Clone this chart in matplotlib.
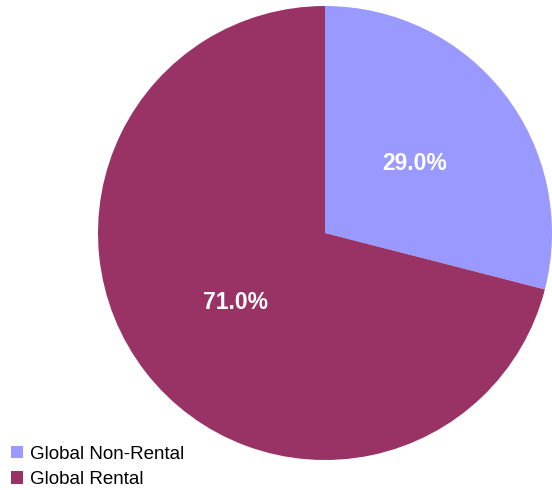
import matplotlib.pyplot as plt
from matplotlib.patches import Patch

plt.rcParams['font.family'] = ['Liberation Sans', 'DejaVu Sans']

# Data
labels = ['Global Non-Rental', 'Global Rental']
shares = [29.0, 71.0]
colors = ['#9999FF', '#993366']

fig = plt.figure(figsize=(5.52, 4.9), dpi=100)
ax = fig.add_axes([98 / 552, 30 / 490, 454 / 552, 454 / 490])

wedges, texts, autotexts = ax.pie(
    shares, colors=colors, startangle=90, counterclock=False,
    autopct='%1.1f%%', pctdistance=0.5, radius=1.0,
    textprops=dict(color='white', fontsize=16.5, fontweight='bold'),
)
ax.set_xlim(-1, 1)
ax.set_ylim(-1, 1)
ax.set_aspect('equal')

handles = [Patch(facecolor=c, edgecolor='none') for c in colors]
fig.legend(handles, labels, loc='lower left', bbox_to_anchor=(0.0, -0.019),
           frameon=False, fontsize=13.5, handlelength=0.65, handleheight=0.65,
           handletextpad=0.35, labelspacing=0.45, borderaxespad=0.2)

fig.savefig('out.png', dpi=100)
